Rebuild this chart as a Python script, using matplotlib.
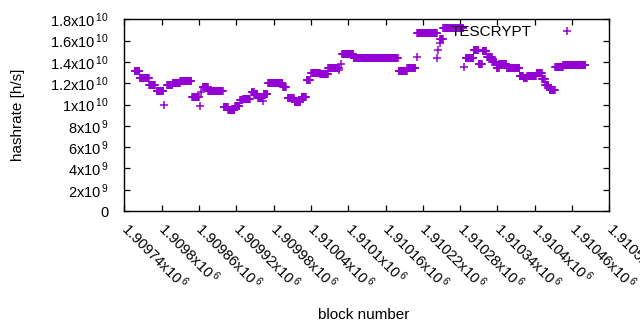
import numpy as np
import matplotlib
matplotlib.use('Agg')
import matplotlib.pyplot as plt
from matplotlib.ticker import FuncFormatter

# runs of equal hashrate: first block, last block, value [h/s]
run_first = [1909757, 1909765, 1909780, 1909792, 1909804, 1909809, 1909818, 1909830,
             1909849, 1909861, 1909863, 1909866, 1909875, 1909900, 1909907, 1909918,
             1909926, 1909931, 1909945, 1909949, 1909955, 1909963, 1909964, 1909971,
             1909995, 1910003, 1910014, 1910025, 1910033, 1910041, 1910055, 1910068,
             1910086, 1910088, 1910090, 1910109, 1910181, 1910195, 1910210, 1910211,
             1910243, 1910245, 1910247, 1910248, 1910253, 1910286, 1910289, 1910302,
             1910310, 1910316, 1910323, 1910332, 1910339, 1910343, 1910355, 1910376,
             1910382, 1910388, 1910403, 1910412, 1910417, 1910424, 1910433, 1910446]
run_last = [1909764, 1909779, 1909789, 1909803, 1909804, 1909817, 1909829, 1909848,
            1909860, 1909861, 1909863, 1909874, 1909898, 1909906, 1909917, 1909925,
            1909930, 1909942, 1909948, 1909954, 1909962, 1909963, 1909970, 1909994,
            1910000, 1910013, 1910023, 1910032, 1910038, 1910054, 1910067, 1910085,
            1910086, 1910088, 1910108, 1910180, 1910194, 1910208, 1910210, 1910242,
            1910243, 1910245, 1910247, 1910252, 1910285, 1910286, 1910301, 1910309,
            1910315, 1910322, 1910331, 1910338, 1910342, 1910354, 1910375, 1910381,
            1910387, 1910402, 1910411, 1910416, 1910422, 1910432, 1910445, 1910481]
run_value = [1.315e10, 1.25e10, 1.18e10, 1.125e10, 1.0e10, 1.18e10, 1.20e10, 1.22e10,
             1.075e10, 0.99e10, 1.12e10, 1.16e10, 1.13e10, 0.98e10, 0.945e10, 0.99e10,
             1.04e10, 1.05e10, 1.12e10, 1.10e10, 1.06e10, 1.035e10, 1.095e10, 1.20e10,
             1.16e10, 1.058e10, 1.026e10, 1.073e10, 1.23e10, 1.30e10, 1.286e10, 1.34e10,
             1.32e10, 1.38e10, 1.47e10, 1.434e10, 1.315e10, 1.34e10, 1.443e10, 1.668e10,
             1.437e10, 1.51e10, 1.58e10, 1.615e10, 1.715e10, 1.355e10, 1.44e10, 1.51e10,
             1.385e10, 1.50e10, 1.45e10, 1.40e10, 1.34e10, 1.378e10, 1.343e10, 1.27e10,
             1.25e10, 1.268e10, 1.30e10, 1.24e10, 1.18e10, 1.133e10, 1.355e10, 1.368e10]

x_ticks = list(range(1909740, 1910521, 60))
y_ticks = [0, 2e9, 4e9, 6e9, 8e9, 1e10, 1.2e10, 1.4e10, 1.6e10, 1.8e10]

plt.rcParams['font.family'] = ['Liberation Sans', 'DejaVu Sans']
plt.rcParams['mathtext.fontset'] = 'custom'
plt.rcParams['mathtext.rm'] = 'Liberation Sans'
plt.rcParams['mathtext.default'] = 'regular'


def sci(v, pos=None):
    if v == 0:
        return '0'
    e = int(np.floor(np.log10(abs(v)) + 1e-9))
    m = v / 10 ** e
    return '%gx10$^{\\,%d}$' % (round(m, 6), e)


blocks = []
rates = []
for a, b, v in zip(run_first, run_last, run_value):
    for blk in range(a, b + 1):
        blocks.append(blk)
        rates.append(v)

fig = plt.figure(figsize=(6.4, 3.3), dpi=100)
ax = fig.add_axes([0.1942, 0.3606, 0.758, 0.5809])
ax.plot(blocks, rates, linestyle='none', marker='+', markersize=5.5,
        markeredgewidth=1.1, color='#9400d3', label='TESCRYPT')

ax.set_xlim(x_ticks[0], x_ticks[-1])
ax.set_ylim(0, 1.8e10)
ax.set_xticks(x_ticks)
ax.set_yticks(y_ticks)
ax.xaxis.set_major_formatter(FuncFormatter(sci))
ax.yaxis.set_major_formatter(FuncFormatter(sci))
ax.tick_params(direction='in', length=4, width=0.9, top=True, right=True,
               labelsize=10.5, colors='black')
ax.tick_params(axis='y', pad=11)
ax.tick_params(axis='x', pad=10.5)
for lab in ax.get_xticklabels():
    lab.set_rotation(-45)
    lab.set_ha('left')
    lab.set_va('center')
    lab.set_rotation_mode('anchor')
for sp in ax.spines.values():
    sp.set_linewidth(1.0)

ax.set_xlabel('block number', fontsize=11)
ax.set_ylabel('hashrate [h/s]', fontsize=11)
ax.xaxis.set_label_coords(0.493, -0.505)
ax.yaxis.set_label_coords(-0.205, 0.5)
ax.legend(loc='center right', bbox_to_anchor=(0.960, 0.934), frameon=False,
          markerfirst=False, numpoints=1, handlelength=3, handletextpad=0.8,
          borderpad=0, borderaxespad=0, fontsize=11)

fig.savefig('out.png', dpi=100)
plt.close(fig)
